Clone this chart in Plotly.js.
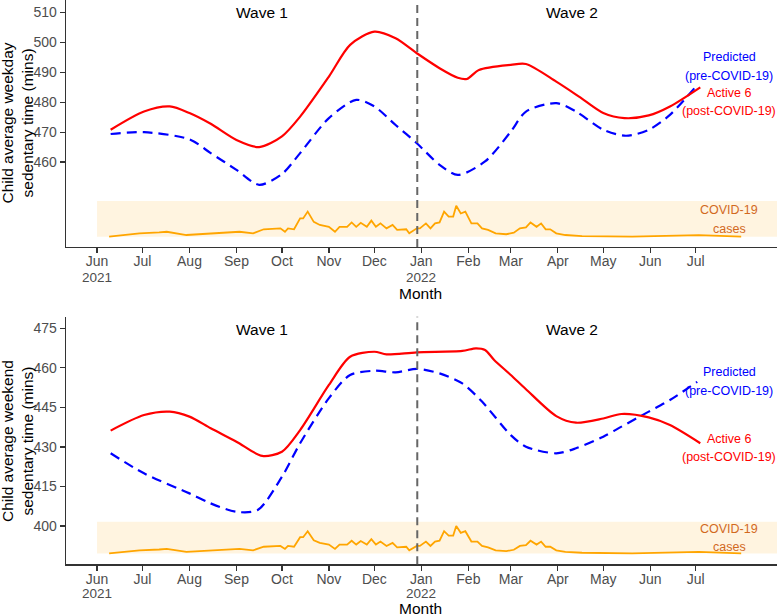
<!DOCTYPE html>
<html>
<head>
<meta charset="utf-8">
<script src="https://cdn.plot.ly/plotly-3.0.1.min.js"></script>
<style>html,body{margin:0;padding:0;background:#fff;}#chart{width:777px;height:616px;}</style>
</head>
<body>
<div id="chart"></div>
<script>
// ---- Weekday panel (top) ----
const wdRedDates = ['2021-06-10','2021-07-02','2021-07-19','2021-08-01','2021-08-15','2021-09-01','2021-09-16','2021-10-01','2021-10-13','2021-11-01','2021-11-15','2021-12-01','2021-12-15','2021-12-29','2022-01-13','2022-01-25','2022-01-31','2022-02-08','2022-03-01','2022-03-11','2022-03-31','2022-04-15','2022-05-01','2022-05-15','2022-05-31','2022-06-14','2022-07-04'];
const wdRed = [470.8,476.9,478.6,476.4,472.8,467.4,465.0,468.6,475.2,488.6,499.2,503.6,501.4,496.4,491.4,488.2,487.8,490.8,492.5,492.8,486.9,481.9,476.4,474.7,475.6,478.6,485.0];
const wdBlueDates = ['2021-06-10','2021-07-02','2021-08-01','2021-08-15','2021-09-01','2021-09-16','2021-10-01','2021-10-13','2021-11-01','2021-11-19','2021-12-01','2021-12-15','2021-12-29','2022-01-13','2022-01-25','2022-02-12','2022-03-01','2022-03-11','2022-03-31','2022-04-13','2022-05-01','2022-05-16','2022-05-31','2022-06-14','2022-07-02'];
const wdBlue = [469.4,470.0,467.6,463.0,457.4,452.4,456.0,463.0,474.7,480.8,478.6,472.4,466.3,459.1,455.7,460.2,470.2,476.9,479.7,476.9,470.8,468.8,470.8,475.8,485.8];

// ---- Weekend panel (bottom) ----
const weRedDates = ['2021-06-10','2021-07-02','2021-07-19','2021-08-01','2021-08-15','2021-09-01','2021-09-18','2021-10-01','2021-10-13','2021-11-01','2021-11-15','2021-12-01','2021-12-09','2021-12-29','2022-01-28','2022-02-06','2022-02-12','2022-02-18','2022-03-01','2022-03-11','2022-03-31','2022-04-13','2022-05-01','2022-05-13','2022-05-31','2022-06-14','2022-07-04'];
const weRed = [436.2,442.1,443.4,441.5,437.1,432.0,426.6,428.2,436.4,453.5,464.2,466.1,465.1,465.9,466.4,467.4,466.8,463.0,457.3,451.9,441.7,439.2,440.8,442.5,441.2,438.3,431.4];
const weBlueDates = ['2021-06-10','2021-07-02','2021-08-01','2021-08-15','2021-09-01','2021-09-15','2021-10-01','2021-10-13','2021-11-01','2021-11-15','2021-12-01','2021-12-15','2021-12-29','2022-01-13','2022-01-28','2022-02-10','2022-03-01','2022-03-11','2022-03-31','2022-04-13','2022-05-01','2022-05-13','2022-05-31','2022-06-14','2022-07-02'];
const weBlue = [427.6,420.0,412.4,408.6,405.4,406.1,418.7,431.4,448.5,457.3,458.9,458.3,459.6,457.9,454.1,447.2,434.5,430.1,427.6,429.5,433.9,437.7,443.4,447.8,454.7];

// ---- COVID-19 cases (relative index, peak = 100) ----
const caseDates = ['2021-06-09','2021-06-29','2021-07-12','2021-07-17','2021-07-30','2021-08-16','2021-09-03','2021-09-12','2021-09-19','2021-09-30','2021-10-03','2021-10-05','2021-10-09','2021-10-13','2021-10-15','2021-10-18','2021-10-22','2021-10-26','2021-11-01','2021-11-05','2021-11-08','2021-11-13','2021-11-16','2021-11-19','2021-11-22','2021-11-26','2021-11-29','2021-12-02','2021-12-05','2021-12-09','2021-12-13','2021-12-16','2021-12-22','2021-12-24','2021-12-29','2021-12-31','2022-01-04','2022-01-07','2022-01-10','2022-01-13','2022-01-16','2022-01-19','2022-01-22','2022-01-24','2022-01-27','2022-01-30','2022-02-03','2022-02-07','2022-02-10','2022-02-14','2022-02-19','2022-02-26','2022-03-03','2022-03-07','2022-03-11','2022-03-14','2022-03-18','2022-03-21','2022-03-24','2022-03-27','2022-03-31','2022-04-06','2022-04-17','2022-05-20','2022-07-03','2022-07-31'];
const cases = [0,11,14,16,5.5,11,16,11,24,27,16,27,24,59,59,81,48,38,32,16,32,32,46,32,45,32,52,32,43,27,38,22,24,11,27,27,43,27,43,46,81,65,65,100,75,81,43,43,27,22,11,8,13,27,30,46,32,43,24,24,11,5.5,2,0,5,0];

// ---- Axis ticks ----
const monthTicks = ['2021-06-01','2021-07-01','2021-08-01','2021-09-01','2021-10-01','2021-11-01','2021-12-01','2022-01-01','2022-02-01','2022-03-01','2022-04-01','2022-05-01','2022-06-01','2022-07-01'];
const monthLabels = ['Jun','Jul','Aug','Sep','Oct','Nov','Dec','Jan','Feb','Mar','Apr','May','Jun','Jul'];
const yearTicks = ['2021-06-01','2022-01-01'];
const yearLabels = ['2021','2022'];
const wdTicks = [460,470,480,490,500,510];
const weTicks = [400,415,430,445,460,475];
const xRange = ['2021-05-11 13:00','2022-08-23 15:00'];
const waveDivide = '2021-12-29 07:00';

const FONT = 'Arial, "Liberation Sans", sans-serif';
const RED = '#ff0000', BLUE = '#0000ff', ORANGE = '#ffa500', BROWN = '#d2691e';

const traces = [
  {x: caseDates, y: cases, xaxis:'x', yaxis:'y2', mode:'lines', line:{color:ORANGE, width:1.8}, hoverinfo:'skip'},
  {x: wdBlueDates, y: wdBlue, xaxis:'x', yaxis:'y', mode:'lines', line:{color:BLUE, width:2.2, dash:'10px,6px', shape:'spline', smoothing:0.8}},
  {x: wdRedDates, y: wdRed, xaxis:'x', yaxis:'y', mode:'lines', line:{color:RED, width:2.2, shape:'spline', smoothing:0.8}},
  {x: caseDates, y: cases, xaxis:'x2', yaxis:'y4', mode:'lines', line:{color:ORANGE, width:1.8}, hoverinfo:'skip'},
  {x: weBlueDates, y: weBlue, xaxis:'x2', yaxis:'y3', mode:'lines', line:{color:BLUE, width:2.2, dash:'10px,6px', shape:'spline', smoothing:0.8}},
  {x: weRedDates, y: weRed, xaxis:'x2', yaxis:'y3', mode:'lines', line:{color:RED, width:2.2, shape:'spline', smoothing:0.8}}
];

function xAxis(anchor){
  return {anchor: anchor, type:'date', range: xRange, tickvals: monthTicks, ticktext: monthLabels,
    showgrid:false, zeroline:false, showline:true, linecolor:'#333', linewidth:1.4,
    ticks:'outside', ticklen:5, tickcolor:'#333', tickwidth:1.2, ticklabelstandoff:-4,
    tickfont:{family:FONT, size:14, color:'#4d4d4d'}, domain:[0,1]};
}
function yAxis(dom, range, ticks, anchor){
  return {domain: dom, range: range, tickvals: ticks, anchor: anchor,
    showgrid:false, zeroline:false, showline:true, linecolor:'#333', linewidth:1.4,
    ticks:'outside', ticklen:5, tickcolor:'#333', tickwidth:1.2,
    tickfont:{family:FONT, size:14, color:'#4d4d4d'}};
}

function ann(text, x, y, color, size, extra){
  return Object.assign({text:text, x:x, y:y, xref:'paper', yref:'paper', showarrow:false,
    xanchor:'center', yanchor:'middle', font:{family:FONT, size:size, color:color}}, extra||{});
}

const annotations = [
  ann('Child average weekday<br>sedentary time (mins)', -0.0689, 0.7995, '#000', 15.5, {textangle:-90}),
  ann('Child average weekend<br>sedentary time (mins)', -0.0689, 0.284, '#000', 15.5, {textangle:-90}),
  ann('Month', 0.4989, 0.5228, '#000', 15.5),
  ann('Month', 0.4989, 0.0115, '#000', 15.5),
  ann('Wave 1', 0.2757, 0.9794, '#000', 15.5),
  ann('Wave 2', 0.7112, 0.9794, '#000', 15.5),
  ann('Wave 1', 0.2757, 0.4654, '#000', 15.5),
  ann('Wave 2', 0.7112, 0.4659, '#000', 15.5),
  ann('Predicted', 0.9325, 0.9075, BLUE, 12.5),
  ann('(pre-COVID-19)', 0.9325, 0.8771, BLUE, 12.5),
  ann('Active 6', 0.9325, 0.849, RED, 12.5),
  ann('(post-COVID-19)', 0.9325, 0.8198, RED, 12.5),
  ann('COVID-19', 0.9325, 0.6591, BROWN, 12.5),
  ann('cases', 0.9325, 0.6282, BROWN, 12.5),
  ann('Predicted', 0.9325, 0.3956, BLUE, 12.5),
  ann('(pre-COVID-19)', 0.9325, 0.3653, BLUE, 12.5),
  ann('Active 6', 0.9325, 0.2878, RED, 12.5),
  ann('(post-COVID-19)', 0.9325, 0.2576, RED, 12.5),
  ann('COVID-19', 0.9325, 0.1412, BROWN, 12.5),
  ann('cases', 0.9325, 0.112, BROWN, 12.5)
];
// year sub-labels under the Jun 2021 and Jan 2022 ticks
yearTicks.forEach(function(d, i){
  annotations.push(Object.assign(ann(yearLabels[i], d, 0.5503, '#4d4d4d', 13.5, {borderpad:0}), {xref:'x'}));
  annotations.push(Object.assign(ann(yearLabels[i], d, 0.0365, '#4d4d4d', 13.5, {borderpad:0}), {xref:'x2'}));
});

const layout = {
  width:777, height:616,
  margin:{l:66, r:0, t:0, b:0},
  paper_bgcolor:'#fff', plot_bgcolor:'#fff',
  showlegend:false,
  xaxis: xAxis('y'),
  yaxis: yAxis([0.599, 1], [431.6, 514.2], wdTicks, 'x'),
  yaxis2: {overlaying:'y', range:[-33.2, 763.6], visible:false, anchor:'x'},
  xaxis2: xAxis('y3'),
  yaxis3: yAxis([0.0839, 0.4859], [385.5, 479.4], weTicks, 'x2'),
  yaxis4: {overlaying:'y3', range:[-40.3, 866.7], visible:false, anchor:'x2'},
  shapes: [
    {type:'rect', xref:'x', yref:'y', x0:'2021-06-01', x1:xRange[1], y0:435, y1:447, fillcolor:'rgba(255,165,0,0.12)', line:{width:0}, layer:'below'},
    {type:'rect', xref:'x2', yref:'y3', x0:'2021-06-01', x1:xRange[1], y0:389.6, y1:401.6, fillcolor:'rgba(255,165,0,0.12)', line:{width:0}, layer:'below'},
    {type:'line', xref:'x', yref:'y domain', x0:waveDivide, x1:waveDivide, y0:0, y1:1, line:{color:'#666', width:2, dash:'8px,5px'}},
    {type:'line', xref:'x2', yref:'y3 domain', x0:waveDivide, x1:waveDivide, y0:0, y1:1, line:{color:'#666', width:2, dash:'8px,5px'}}
  ],
  annotations: annotations
};

Plotly.newPlot('chart', traces, layout, {displayModeBar:false, staticPlot:true});
</script>
</body>
</html>
